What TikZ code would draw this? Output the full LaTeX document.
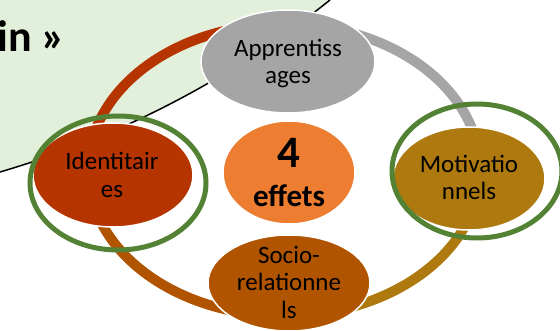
\documentclass[tikz,border=0pt]{standalone}
\usepackage{fontspec}
\setmainfont{Carlito}
\usetikzlibrary{shapes.geometric}
\definecolor{bggreen}{HTML}{E2EFDA}
\definecolor{cRed}{RGB}{182,52,0}
\definecolor{cBrown}{RGB}{176,84,0}
\definecolor{cGold}{RGB}{174,121,14}
\definecolor{cGrey}{HTML}{A5A5A5}
\definecolor{cOrange}{HTML}{ED7D31}
\definecolor{cRing}{RGB}{84,130,53}
\begin{document}
\begin{tikzpicture}[x=1pt,y=-1pt,
  blob/.style={ellipse, draw=white, line width=1.5pt, inner sep=0pt},
  lbl/.style={align=center, font=\fontsize{25}{27.5}\selectfont, text=black, inner sep=0pt},
  ringarc/.style={line width=10pt},
  halo/.style={ellipse, draw=cRing, line width=5pt, fill=none, inner sep=0pt}]
\useasboundingbox (0,0) rectangle (560,331);
\begin{scope}
\clip (0,0) rectangle (560,331);
% background panel
\fill[bggreen] (0,0) -- (330,0) .. controls (232.7,77.9) and (122.7,135.9) .. (0,172) -- cycle;
\draw[line width=1.5pt] (330,0) .. controls (232.7,77.9) and (122.7,135.9) .. (0,172);
\node[font=\bfseries\fontsize{44}{44}\selectfont, anchor=base west, inner sep=0pt] (title) at (-3,52) {in »};
% ring segments
\draw[ringarc, cGrey]  plot[domain=270:360, samples=60] ({284+196*cos(\x)},{170+146*sin(\x)});
\draw[ringarc, cGold]  plot[domain=0:90,    samples=60] ({284+196*cos(\x)},{170+146*sin(\x)});
\draw[ringarc, cBrown] plot[domain=90:180,  samples=60] ({284+196*cos(\x)},{170+146*sin(\x)});
\draw[ringarc, cRed]   plot[domain=180:270, samples=60] ({284+196*cos(\x)},{170+146*sin(\x)});
% nodes
\node[blob, fill=cGrey,   minimum width=174, minimum height=103] (app) at (288,61.5) {};
\node[blob, fill=cOrange, minimum width=132, minimum height=103] (eff) at (289,172.5) {};
\node[blob, fill=cRed,    minimum width=160, minimum height=104] (ide) at (113,175) {};
\node[blob, fill=cGold,   minimum width=152, minimum height=103] (mot) at (469,178.5) {};
\node[blob, fill=cBrown,  minimum width=162, minimum height=96]  (soc) at (289,283) {};
% highlight rings
\node[halo, minimum width=176, minimum height=134] (idering) at (118,183) {};
\node[halo, minimum width=170, minimum height=134] (motring) at (477,171) {};
% labels
\node[lbl] (appt) at (288,63.5) {Apprentiss\\ages};
\node[lbl] (idet) at (112,175) {Identitair\\es};
\node[lbl] (mott) at (469,177.5) {Motivatio\\nnels};
\node[lbl] (soct) at (289,282) {Socio-\\relationne\\ls};
\node[lbl, font=\bfseries\fontsize{31}{39}\selectfont] (efft) at (289,172.5) {{\fontsize{45}{39}\selectfont 4}\\effets};
\end{scope}
\end{tikzpicture}
\end{document}
